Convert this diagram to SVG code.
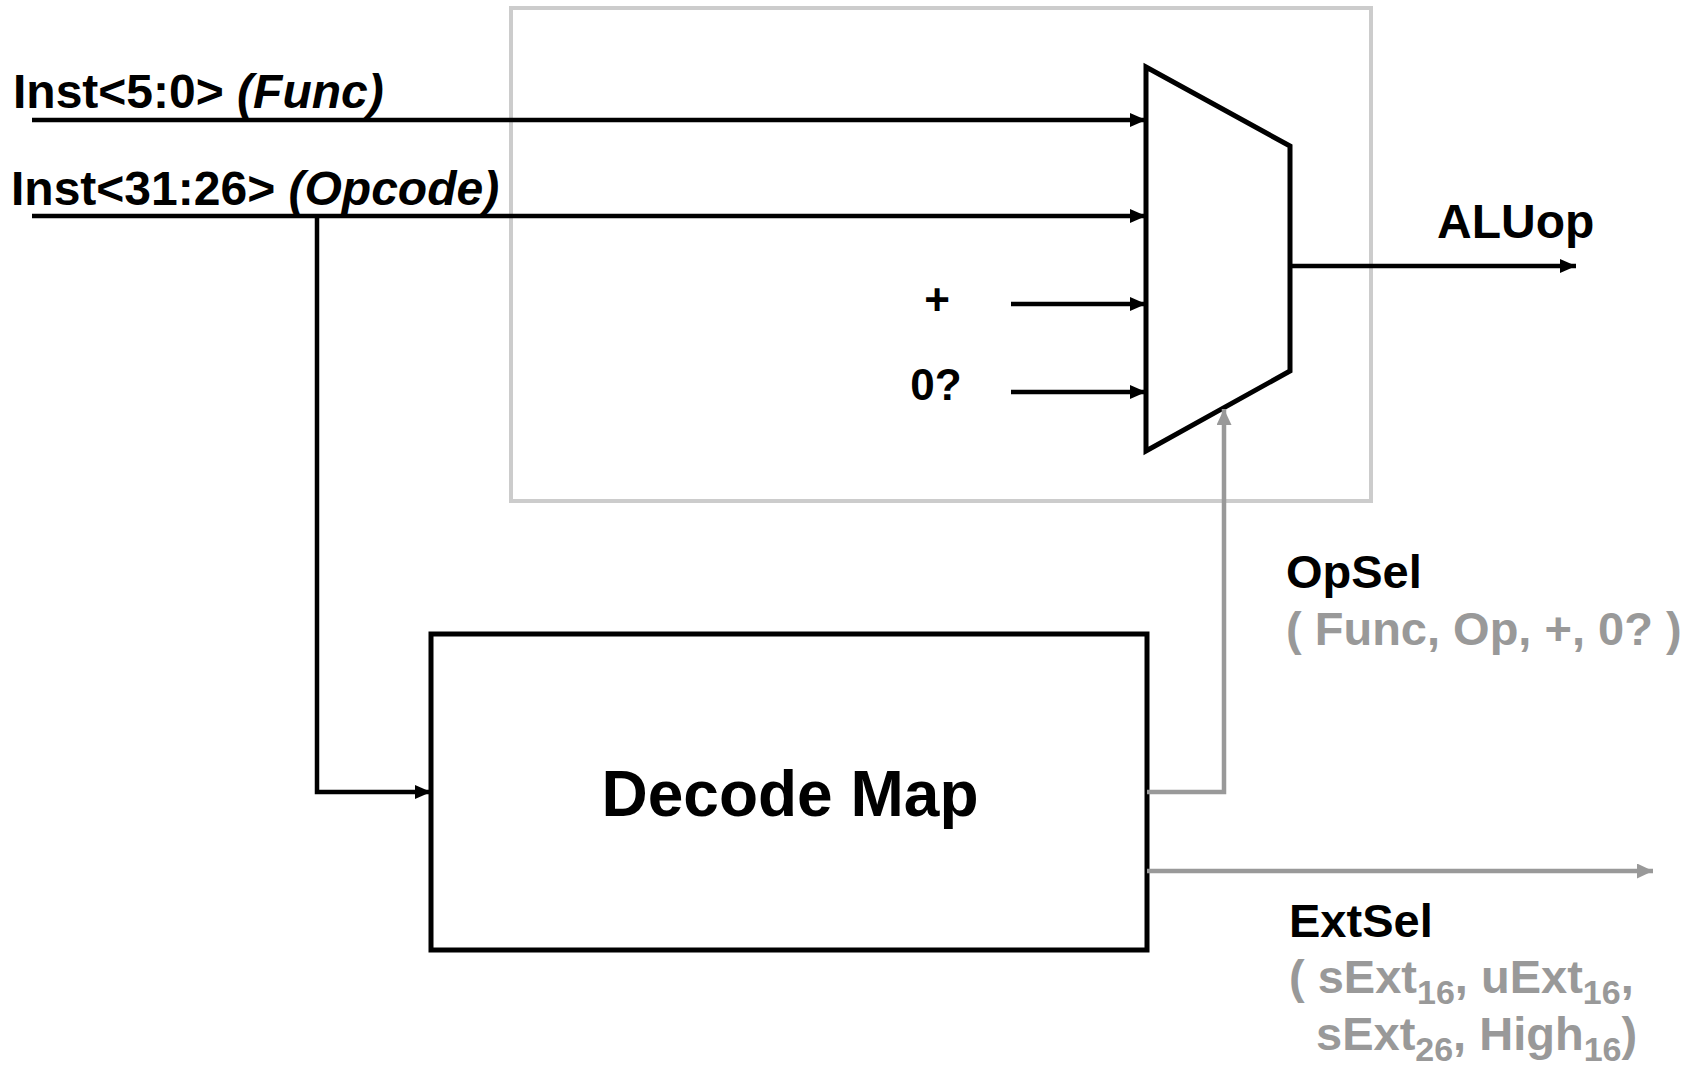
<svg xmlns="http://www.w3.org/2000/svg" width="1697" height="1066" viewBox="0 0 1697 1066">
<style>
text{font-family:"Liberation Sans",Arial,sans-serif;font-weight:bold}
.blk{fill:#000}
.gry{fill:#999}
.w{stroke:#000;stroke-width:4.5;fill:none}
.g{stroke:#999;stroke-width:4.5;fill:none}
</style>
<defs>
<marker id="ab" markerUnits="userSpaceOnUse" markerWidth="17" markerHeight="15" refX="16" refY="7" orient="auto"><path d="M0,0 L16,7 L0,14 z" fill="#000"/></marker>
<marker id="ag" markerUnits="userSpaceOnUse" markerWidth="17" markerHeight="16" refX="16" refY="7.5" orient="auto"><path d="M0,0 L16,7.5 L0,15 z" fill="#999"/></marker>
</defs>
<rect width="1697" height="1066" fill="#fff"/>
<g id="alu-box"><rect x="511" y="8" width="860" height="493" fill="none" stroke="#cccccc" stroke-width="4"/></g>
<g id="mux"><polygon points="1146,67 1290,146 1290,371 1146,451" fill="#fff" stroke="#000" stroke-width="5" stroke-linejoin="miter"/></g>
<g id="decode-map">
<rect x="431" y="634" width="716" height="316" fill="#fff" stroke="#000" stroke-width="5"/>
<text x="790" y="816" font-size="64" text-anchor="middle" class="blk">Decode Map</text>
</g>
<g id="connectors">
<line class="w" x1="32" y1="120" x2="1146" y2="120" marker-end="url(#ab)"/>
<line class="w" x1="32" y1="216" x2="1146" y2="216" marker-end="url(#ab)"/>
<line class="w" x1="1011" y1="304" x2="1146" y2="304" marker-end="url(#ab)"/>
<line class="w" x1="1011" y1="392" x2="1146" y2="392" marker-end="url(#ab)"/>
<line class="w" x1="1290" y1="266" x2="1576" y2="266" marker-end="url(#ab)"/>
<polyline class="w" points="317,216 317,792 431,792" marker-end="url(#ab)"/>
<polyline class="g" points="1147,792 1224,792 1224,409" marker-end="url(#ag)"/>
<line class="g" x1="1147" y1="871" x2="1653" y2="871" marker-end="url(#ag)"/>
</g>
<g id="labels">
<text x="13" y="108" font-size="48" class="blk">Inst&lt;5:0&gt; <tspan font-style="italic">(Func)</tspan></text>
<text x="11" y="205" font-size="48" class="blk">Inst&lt;31:26&gt; <tspan font-style="italic">(Opcode)</tspan></text>
<text x="937" y="315" font-size="44" text-anchor="middle" class="blk">+</text>
<text x="936" y="400" font-size="44" text-anchor="middle" class="blk">0?</text>
<text x="1437" y="238" font-size="48" class="blk">ALUop</text>
<text x="1286" y="588" font-size="47" class="blk">OpSel</text>
<text x="1286" y="645" font-size="47" class="gry">( Func, Op, +, 0? )</text>
<text x="1289" y="937" font-size="47" class="blk">ExtSel</text>
<text x="1289" y="993" font-size="47" class="gry">( sExt<tspan font-size="34" dy="11">16</tspan><tspan dy="-11">, uExt</tspan><tspan font-size="34" dy="11">16</tspan><tspan dy="-11">,</tspan></text>
<text x="1316" y="1050" font-size="47" class="gry">sExt<tspan font-size="34" dy="11">26</tspan><tspan dy="-11">, High</tspan><tspan font-size="34" dy="11">16</tspan><tspan dy="-11">)</tspan></text>
</g>
</svg>
